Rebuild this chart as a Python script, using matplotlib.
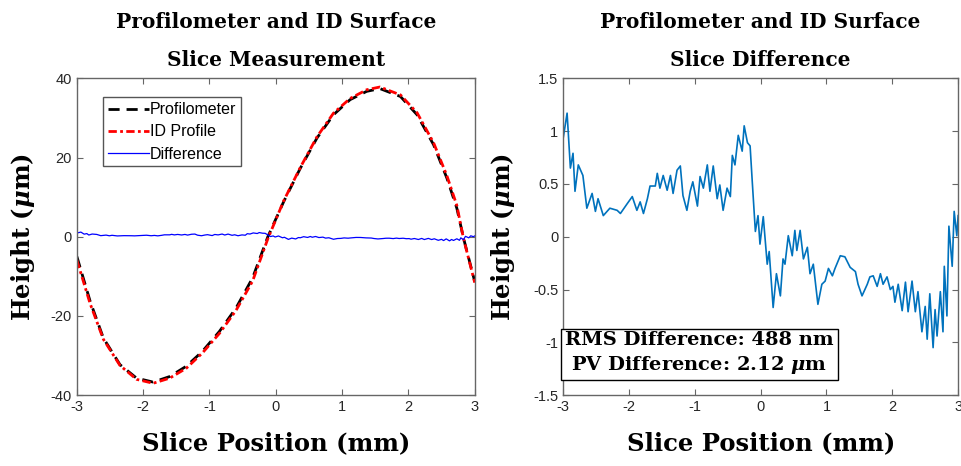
import matplotlib
matplotlib.use("Agg")
import matplotlib.pyplot as plt

# slice position (mm) and heights (um)
prof_x = [-3.0, -2.8, -2.6, -2.35, -2.1, -1.85, -1.6, -1.35, -1.11, -0.85, -0.6, -0.35,
          -0.12, 0.12, 0.37, 0.62, 0.87, 1.12, 1.37, 1.57, 1.88, 2.13, 2.38, 2.58, 2.73, 2.83, 3.0]
profilometer = [-5.0, -16.3, -25.6, -32.3, -35.7, -36.7, -35.3, -32.7, -29.0, -23.9, -18.0, -10.4,
                0.0, 8.9, 17.3, 24.9, 30.8, 34.6, 36.7, 37.4, 35.4, 30.8, 23.2, 14.8, 7.2, -0.3, -11.3]
id_profile = [-5.9, -16.9, -25.9, -32.5, -36.0, -37.0, -35.7, -33.2, -29.4, -24.4, -18.6, -11.2,
              -0.5, 9.1, 17.5, 25.2, 31.2, 34.9, 37.1, 37.8, 35.8, 31.3, 23.7, 15.4, 7.9, -0.4, -11.6]

# difference slice (um)
diff_x = [-3.00, -2.94, -2.89, -2.85, -2.82, -2.77, -2.70, -2.64, -2.56, -2.51, -2.47, -2.39,
          -2.29, -2.18, -2.13, -2.03, -1.95, -1.88, -1.83, -1.78, -1.72, -1.68, -1.60, -1.57,
          -1.53, -1.48, -1.42, -1.37, -1.33, -1.27, -1.22, -1.18, -1.12, -1.07, -1.03, -0.96,
          -0.92, -0.87, -0.81, -0.77, -0.72, -0.66, -0.62, -0.57, -0.51, -0.46, -0.43, -0.39,
          -0.34, -0.28, -0.25, -0.20, -0.16, -0.13, -0.08, -0.04, -0.01, 0.04, 0.10, 0.13,
          0.19, 0.24, 0.30, 0.34, 0.37, 0.42, 0.48, 0.52, 0.55, 0.60, 0.65, 0.71, 0.75, 0.80,
          0.87, 0.93, 0.98, 1.03, 1.09, 1.13, 1.21, 1.28, 1.36, 1.44, 1.48, 1.54, 1.62, 1.66,
          1.71, 1.77, 1.82, 1.86, 1.92, 1.97, 2.01, 2.04, 2.09, 2.15, 2.20, 2.24, 2.30, 2.35,
          2.39, 2.45, 2.50, 2.53, 2.57, 2.62, 2.65, 2.68, 2.73, 2.77, 2.79, 2.83, 2.86, 2.91,
          2.94, 2.98, 3.00]
difference = [0.93, 1.17, 0.65, 0.79, 0.43, 0.68, 0.58, 0.27, 0.41, 0.24, 0.36, 0.20,
              0.27, 0.25, 0.22, 0.31, 0.38, 0.25, 0.33, 0.22, 0.36, 0.48, 0.48, 0.60,
              0.46, 0.58, 0.44, 0.58, 0.41, 0.63, 0.67, 0.39, 0.25, 0.43, 0.52, 0.29,
              0.57, 0.46, 0.68, 0.43, 0.67, 0.36, 0.49, 0.25, 0.46, 0.38, 0.77, 0.68,
              0.96, 0.81, 1.05, 0.89, 0.86, 0.55, 0.05, 0.20, -0.07, 0.19, -0.26,
              -0.14, -0.67, -0.35, -0.56, -0.21, -0.26, 0.01, -0.18, 0.06, -0.13, 0.06, -0.21,
              -0.10, -0.35, -0.26, -0.64, -0.45, -0.42, -0.30, -0.37, -0.30, -0.18, -0.19, -0.29,
              -0.33, -0.45, -0.56, -0.45, -0.38, -0.37, -0.47, -0.35, -0.45, -0.38, -0.50, -0.47,
              -0.62, -0.45, -0.70, -0.43, -0.71, -0.42, -0.71, -0.52, -0.90, -0.66, -0.97, -0.54,
              -1.05, -0.69, -0.94, -0.52, -0.90, -0.28, -0.75, 0.10, -0.28, 0.24, 0.01, 0.20]

x_ticks = [-3, -2, -1, 0, 1, 2, 3]
left_yticks = [-40, -20, 0, 20, 40]
right_yticks = [-1.5, -1, -0.5, 0, 0.5, 1, 1.5]
right_ylabels = ["-1.5", "-1", "-0.5", "0", "0.5", "1", "1.5"]

plt.rcParams["font.family"] = ["Liberation Sans", "DejaVu Sans"]
plt.rcParams["mathtext.fontset"] = "custom"
plt.rcParams["mathtext.rm"] = "DejaVu Serif:bold"
plt.rcParams["mathtext.it"] = "DejaVu Serif:italic:bold"
plt.rcParams["mathtext.bf"] = "DejaVu Serif:bold"

serif = dict(family="DejaVu Serif", weight="bold")
frame_col = "#666666"

fig = plt.figure(figsize=(9.61, 4.66), dpi=100)
ax1 = fig.add_axes([0.080, 0.152, 0.414, 0.680])
ax2 = fig.add_axes([0.586, 0.152, 0.411, 0.680])


def style(ax, ylab_x):
    for s in ax.spines.values():
        s.set_color(frame_col)
        s.set_linewidth(1.0)
    ax.tick_params(direction="in", top=True, right=True, length=4,
                   color=frame_col, labelcolor="#262626", labelsize=10.5)
    ax.set_xlim(-3, 3)
    ax.set_xticks(x_ticks)
    ax.set_xticklabels([str(t) for t in x_ticks])
    ax.set_xlabel("Slice Position (mm)", fontsize=17.5, **serif)
    ax.set_ylabel(r"Height ($\mu$m)", fontsize=17.5, **serif)
    ax.xaxis.set_label_coords(0.5, -0.115)
    ax.yaxis.set_label_coords(ylab_x, 0.5)


# left panel
ax1.plot(prof_x, profilometer, color="black", ls=(0, (4, 2.5)), lw=2.0, label="Profilometer")
ax1.plot(prof_x, id_profile, color="red", ls=(0, (3, 1.2, 1, 1.2)), lw=2.0, label="ID Profile")
ax1.plot(diff_x, difference, color="blue", lw=0.9, label="Difference")
style(ax1, -0.10)
ax1.set_ylim(-40, 40)
ax1.set_yticks(left_yticks)
ax1.set_yticklabels([str(t) for t in left_yticks])
ax1.set_title("Profilometer and ID Surface\nSlice Measurement", fontsize=14.5,
              linespacing=2.1, pad=9, **serif)
leg = ax1.legend(loc="upper left", bbox_to_anchor=(0.045, 0.965), fontsize=11.5,
                 handlelength=2.6, handletextpad=0.05, borderpad=0.3, labelspacing=0.45,
                 fancybox=False, framealpha=1)
leg.get_frame().set_edgecolor("#555555")
leg.get_frame().set_linewidth(1.0)

# right panel
ax2.plot(diff_x, difference, color="#0072BD", lw=1.2)
style(ax2, -0.116)
ax2.set_ylim(-1.5, 1.5)
ax2.set_yticks(right_yticks)
ax2.set_yticklabels(right_ylabels)
ax2.set_title("Profilometer and ID Surface\nSlice Difference", fontsize=14.5,
              linespacing=2.1, pad=9, **serif)
ax2.text(0.345, 0.06, "RMS Difference: 488 nm\n" + r"PV Difference: 2.12 $\mu$m",
         transform=ax2.transAxes, ha="center", va="bottom", ma="center", fontsize=14,
         linespacing=1.35,
         bbox=dict(boxstyle="square,pad=0.2", fc="white", ec="black", lw=1.0), **serif)

fig.savefig("out.png", dpi=100)
